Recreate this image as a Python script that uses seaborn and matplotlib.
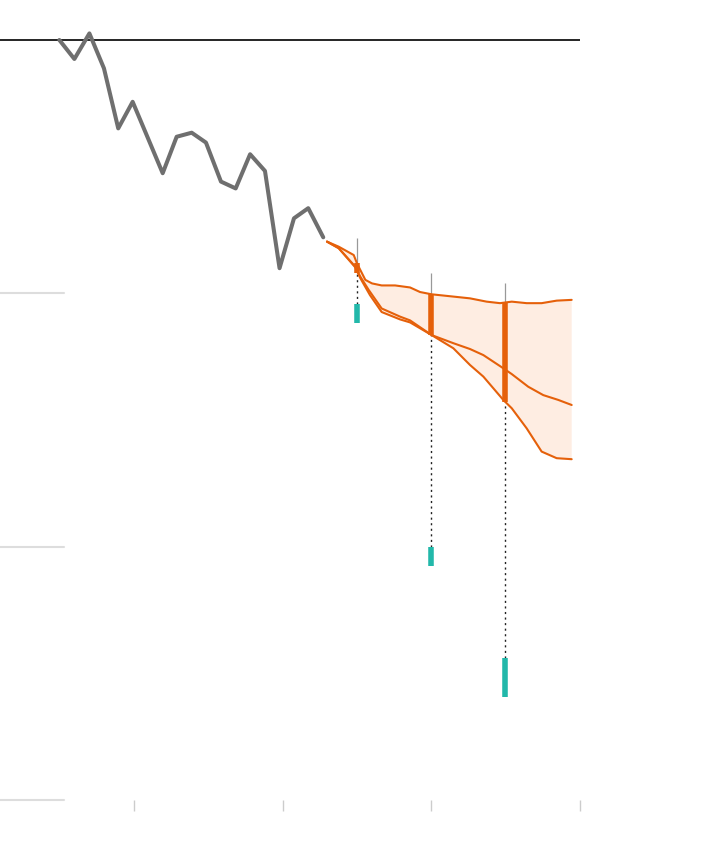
import numpy as np
import pandas as pd
import matplotlib
matplotlib.use("Agg")
import matplotlib.pyplot as plt
import seaborn as sns

# ---------------- data ----------------
hist_x = [1984.98, 1985.99, 1987.00, 1987.98, 1988.94, 1989.91, 1990.92, 1991.93, 1992.87,
          1993.88, 1994.84, 1995.85, 1996.84, 1997.81, 1998.81, 1999.79, 2000.76, 2001.72, 2002.73]
hist_y = [0.0, -0.75, 0.26, -1.12, -3.49, -2.44, -3.85, -5.26, -3.82,
          -3.66, -4.05, -5.59, -5.86, -4.51, -5.17, -9.01, -7.04, -6.64, -7.79]

upper_x = [2002.98, 2003.77, 2004.78, 2005.00, 2005.56, 2006.01, 2006.66, 2007.56, 2008.57, 2009.24,
           2010.02, 2011.48, 2012.60, 2013.72, 2014.62, 2015.41, 2016.41, 2017.42, 2018.43, 2019.44]
upper_y = [-7.96, -8.16, -8.49, -8.82, -9.47, -9.61, -9.69, -9.69, -9.77, -9.95,
           -10.04, -10.13, -10.20, -10.33, -10.39, -10.33, -10.39, -10.39, -10.29, -10.26]

mid_x = [2002.98, 2003.77, 2004.89, 2005.22, 2005.79, 2006.66, 2007.89, 2008.57, 2010.02,
         2011.48, 2012.60, 2013.50, 2014.84, 2015.41, 2016.52, 2017.53, 2018.54, 2019.44]
mid_y = [-7.96, -8.22, -8.95, -9.34, -9.87, -10.60, -10.92, -11.07, -11.65,
         -11.97, -12.20, -12.44, -12.96, -13.19, -13.69, -14.02, -14.21, -14.41]

lower_x = [2002.98, 2003.77, 2004.89, 2005.22, 2005.87, 2006.66, 2007.89, 2008.57, 2010.02,
           2011.48, 2012.60, 2013.50, 2014.84, 2015.41, 2016.41, 2017.42, 2018.43, 2019.44]
lower_y = [-7.96, -8.22, -8.98, -9.40, -10.07, -10.74, -11.03, -11.15, -11.65,
           -12.17, -12.83, -13.29, -14.21, -14.54, -15.33, -16.25, -16.51, -16.55]

marker_x = [2005, 2010, 2014.95]
stem_top = [-7.82, -9.20, -9.59]
range_top = [-8.80, -10.03, -10.38]
range_bot = [-9.20, -11.65, -14.29]
actual_top = [-10.42, -20.02, -24.40]
actual_bot = [-11.17, -20.77, -25.94]

grid_vals = [-10, -20, -30]
tick_years = [1990, 2000, 2010, 2020]

# ---------------- style ----------------
GRAY_LINE = "#6f6f6f"
ORANGE = "#e5600a"
FILL = "#feede2"
TEAL = "#22b8aa"

sns.set_style("white")
fig = plt.figure(figsize=(7.10, 8.48), dpi=100)
ax = fig.add_axes([0, 0, 1, 1])
x0, x1 = 1980.987, 2028.744
ax.set_xlim(x0, x1)
ax.set_ylim(-31.9, 1.579)
ax.axis("off")

# gridlines
for g in grid_vals:
    ax.axhline(g, xmin=0, xmax=64 / 710, color="#dddddd", lw=1.5, zorder=1)
ax.hlines(0, x0, 2020, color="#000000", lw=1.2, zorder=2)
ax.vlines(tick_years, -30.0, -30.42, color="#cccccc", lw=1.0, zorder=1)

# fan fill
poly_x = np.concatenate([upper_x, lower_x[::-1]])
poly_y = np.concatenate([upper_y, lower_y[::-1]])
ax.fill(poly_x, poly_y, color=FILL, lw=0, zorder=2)

# history
hist = pd.DataFrame({"x": hist_x, "y": hist_y})
sns.lineplot(data=hist, x="x", y="y", ax=ax, color=GRAY_LINE, lw=2.9,
             estimator=None, sort=False, zorder=4)

# projection lines
for xs, ys in [(upper_x, upper_y), (mid_x, mid_y), (lower_x, lower_y)]:
    d = pd.DataFrame({"x": xs, "y": ys})
    sns.lineplot(data=d, x="x", y="y", ax=ax, color=ORANGE, lw=1.5,
                 estimator=None, sort=False, zorder=5)

# markers
ax.vlines(marker_x, range_top, stem_top, color="#999999", lw=0.9, zorder=3)
ax.vlines(marker_x, actual_top, range_bot, color="#222222", lw=1.0,
          linestyles=(0, (1.5, 2.5)), zorder=3)
ax.vlines(marker_x, range_bot, range_top, color=ORANGE, lw=4.0, zorder=6)
ax.vlines(marker_x, actual_bot, actual_top, color=TEAL, lw=4.0, zorder=6)

fig.savefig("out.png", dpi=100)
